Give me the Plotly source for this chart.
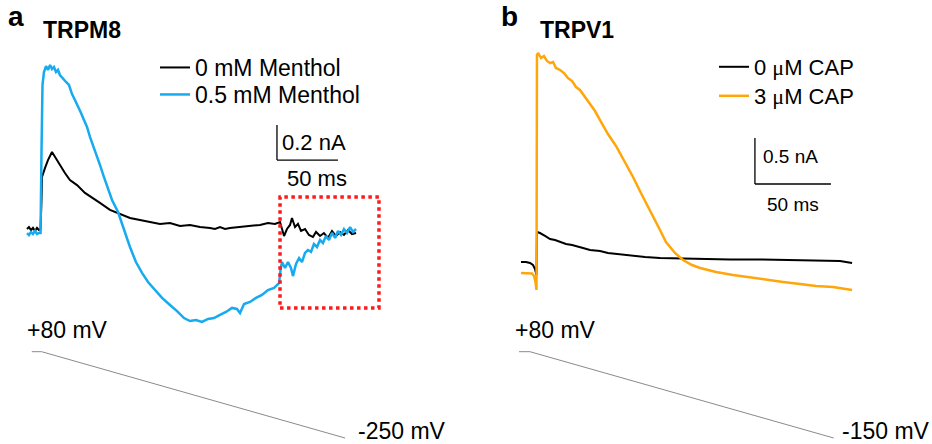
import plotly.graph_objects as go

# ---------------- Panel a : TRPM8 (time in ms, current in nA) ----------------
trpm8_ctrl_t = [0, 1.6, 3.3, 4.9, 6.6, 8.2, 9.8, 11.1, 11.9, 12.3, 14.8, 17.2, 20.5, 23.0, 27.0,
                31.1, 35.2, 41.0, 47.5, 54.1, 59.8, 68.0, 76.2, 84.4, 92.6, 100.8, 109.0, 117.2,
                125.4, 133.6, 141.8, 150.0, 154.1, 158.2, 162.3, 166.4, 174.6, 182.8, 191.0, 197.5,
                203.3, 207.4, 209.0, 210.7, 213.1, 215.6, 217.2, 219.7, 222.1, 224.6, 227.9, 231.1,
                234.4, 236.9, 240.2, 243.4, 246.7, 250.0, 253.3, 256.6, 259.8, 263.1, 266.4, 269.7]
trpm8_ctrl_i = [0, 0.011, -0.006, 0.006, -0.011, 0.006, -0.006, 0, 0.166, 0.297, 0.349, 0.394, 0.44,
                0.411, 0.36, 0.32, 0.28, 0.251, 0.206, 0.177, 0.149, 0.109, 0.086, 0.063, 0.051, 0.04,
                0.029, 0.034, 0.017, 0.023, 0.011, 0.006, 0, 0.011, 0, 0.006, 0.011, 0.017, 0.023,
                0.034, 0.029, 0.04, -0.006, -0.04, 0, 0.023, 0.063, 0.011, 0.029, -0.011, 0,
                -0.034, -0.046, -0.017, -0.04, -0.023, -0.051, -0.011, -0.04, -0.017, -0.034,
                -0.006, -0.029, -0.023]

trpm8_menthol_t = [0, 1.6, 3.3, 4.9, 6.6, 8.2, 9.8, 11.1, 11.9, 12.7, 13.9, 15.6, 17.2, 18.9, 20.5,
                   22.1, 23.8, 25.4, 27.0, 29.5, 32.0, 34.4, 36.9, 39.3, 41.8, 44.3, 46.7, 49.2, 51.6,
                   54.1, 56.6, 59.8, 63.1, 66.4, 69.7, 74.6, 79.5, 84.4, 89.3, 94.3, 99.2, 104.9,
                   110.7, 117.2, 123.0, 128.7, 133.6, 138.5, 143.4, 148.4, 153.3, 158.2, 163.1, 168.0,
                   172.1, 174.6, 177.9, 182.8, 187.7, 192.6, 197.5, 202.5, 206.6, 207.8, 209.0, 211.5,
                   213.9, 216.4, 218.0, 220.5, 223.0, 225.4, 227.9, 230.3, 232.8, 235.2, 237.7, 240.2,
                   242.6, 245.1, 247.5, 250.0, 252.5, 254.9, 257.4, 259.8, 262.3, 264.8, 267.2, 269.7]
trpm8_menthol_i = [-0.023, -0.034, -0.017, -0.029, -0.011, -0.029, -0.023, -0.023, 0.451, 0.823,
                   0.897, 0.931, 0.909, 0.937, 0.914, 0.926, 0.897, 0.909, 0.88, 0.863, 0.84, 0.823,
                   0.771, 0.737, 0.703, 0.663, 0.623, 0.583, 0.526, 0.48, 0.429, 0.366, 0.297, 0.229,
                   0.166, 0.097, -0.006, -0.103, -0.189, -0.251, -0.303, -0.349, -0.394, -0.434,
                   -0.469, -0.509, -0.526, -0.52, -0.531, -0.514, -0.509, -0.491, -0.474, -0.451,
                   -0.457, -0.48, -0.429, -0.417, -0.394, -0.377, -0.349, -0.337, -0.309, -0.234,
                   -0.189, -0.223, -0.189, -0.223, -0.269, -0.2, -0.166, -0.189, -0.137, -0.12,
                   -0.131, -0.086, -0.103, -0.063, -0.08, -0.04, -0.063, -0.023, -0.051, -0.011,
                   -0.034, 0, -0.023, 0.011, -0.017, 0]

# ---------------- Panel b : TRPV1 (time in ms, current in nA) ----------------
trpv1_ctrl_t = [0, 3.3, 5.9, 7.9, 9.2, 10.2, 10.5, 12.5, 15.8, 19.1, 22.4, 25.7, 29.6, 33.6, 37.5,
                40.8, 45.4, 52.0, 57.2, 62.5, 68.4, 73.7, 81.6, 91.4, 104.6, 117.8, 137.5, 157.2,
                177.0, 196.7, 209.9, 213.8, 217.8]
trpv1_ctrl_i = [0, 0, -0.011, -0.033, -0.076, -0.141, 0.326, 0.315, 0.283, 0.25, 0.239, 0.217,
                0.196, 0.185, 0.163, 0.152, 0.13, 0.12, 0.098, 0.087, 0.076, 0.065, 0.054, 0.043,
                0.038, 0.033, 0.027, 0.027, 0.022, 0.016, 0.011, 0, -0.011]

trpv1_cap_t = [0, 4.6, 7.2, 8.6, 9.5, 10.2, 10.5, 11.2, 13.2, 15.1, 17.1, 19.1, 21.1, 23.0, 25.7,
               28.3, 30.9, 33.6, 36.2, 38.8, 42.1, 45.4, 48.7, 52.0, 57.2, 62.5, 68.4, 73.7, 78.9,
               84.9, 90.1, 95.4, 101.3, 106.6, 112.5, 117.8, 128.3, 139.5, 150.7, 161.2, 172.4,
               183.6, 194.1, 205.3, 213.2, 217.8]
trpv1_cap_i = [-0.12, -0.12, -0.125, -0.152, -0.217, -0.304, 2.25, 2.272, 2.217, 2.239, 2.185,
               2.163, 2.174, 2.109, 2.087, 2.054, 2.0, 1.967, 1.902, 1.87, 1.793, 1.717, 1.641,
               1.543, 1.391, 1.261, 1.087, 0.924, 0.75, 0.565, 0.391, 0.217, 0.098, 0.022, -0.033,
               -0.065, -0.109, -0.141, -0.168, -0.196, -0.217, -0.239, -0.261, -0.272, -0.288, -0.304]

# ---------------- Voltage ramps (time in ms, voltage in mV) ----------------
ramp_a_t = [3.9, 12.0, 260.7]
ramp_a_mv = [80, 80, -250]
ramp_b_t = [-1.3, 5.9, 205.7]
ramp_b_mv = [80, 80, -150]

# Scale bars: anchor (ms, nA) and lengths
scale_a_t, scale_a_i, scale_a_dt, scale_a_di = 204.9, 0.394, 50, 0.2
scale_b_t, scale_b_i, scale_b_dt, scale_b_di = 153.9, 0.848, 50, 0.5

# Highlight box in panel a (ms, nA)
box_a_t = [207.4, 288.5]
box_a_i = [-0.451, 0.183]

BLACK = "#000000"
BLUE = "#16AAEF"
ORANGE = "#FFA60A"
FONT = "Liberation Sans, Arial, sans-serif"
MU = "<span style='font-family:Liberation Serif'>μ</span>"

fig = go.Figure()

fig.add_trace(go.Scatter(x=trpm8_ctrl_t, y=trpm8_ctrl_i, mode="lines", name="0 mM Menthol",
                         line=dict(color=BLACK, width=2), xaxis="x", yaxis="y", legend="legend"))
fig.add_trace(go.Scatter(x=trpm8_menthol_t, y=trpm8_menthol_i, mode="lines", name="0.5 mM Menthol",
                         line=dict(color=BLUE, width=2.5), xaxis="x", yaxis="y", legend="legend2"))
fig.add_trace(go.Scatter(x=trpv1_ctrl_t, y=trpv1_ctrl_i, mode="lines", name=f"0 {MU}M CAP",
                         line=dict(color=BLACK, width=2), xaxis="x2", yaxis="y2", legend="legend3"))
fig.add_trace(go.Scatter(x=trpv1_cap_t, y=trpv1_cap_i, mode="lines", name=f"3 {MU}M CAP",
                         line=dict(color=ORANGE, width=2.5), xaxis="x2", yaxis="y2", legend="legend4"))
fig.add_trace(go.Scatter(x=ramp_a_t, y=ramp_a_mv, mode="lines", showlegend=False,
                         line=dict(color="#8a8a8a", width=1), xaxis="x", yaxis="y3"))
fig.add_trace(go.Scatter(x=ramp_b_t, y=ramp_b_mv, mode="lines", showlegend=False,
                         line=dict(color="#8a8a8a", width=1), xaxis="x2", yaxis="y4"))

shapes = []
for (xr, yr, t0, i0, dt, di) in [("x", "y", scale_a_t, scale_a_i, scale_a_dt, scale_a_di),
                                  ("x2", "y2", scale_b_t, scale_b_i, scale_b_dt, scale_b_di)]:
    shapes.append(dict(type="line", xref=xr, yref=yr, x0=t0, x1=t0, y0=i0, y1=i0 + di,
                       line=dict(color=BLACK, width=1.3)))
    shapes.append(dict(type="line", xref=xr, yref=yr, x0=t0, x1=t0 + dt, y0=i0, y1=i0,
                       line=dict(color=BLACK, width=1.3)))
shapes.append(dict(type="rect", xref="x", yref="y", x0=box_a_t[0], x1=box_a_t[1],
                   y0=box_a_i[0], y1=box_a_i[1], line=dict(color="#FF1A1A", width=3.5, dash="dot")))

ann = []
def txt(text, x, y, xref, yref, size, xanchor="left", bold=False, xshift=0, yshift=0):
    ann.append(dict(text=f"<b>{text}</b>" if bold else text, x=x, y=y, xref=xref, yref=yref,
                    showarrow=False, xanchor=xanchor, yanchor="middle", xshift=xshift, yshift=yshift,
                    font=dict(family=FONT, size=size, color=BLACK)))

txt("a", 6 / 932, 1 - 17 / 444, "paper", "paper", 28, bold=True)
txt("TRPM8", 41 / 932, 1 - 30 / 444, "paper", "paper", 23, bold=True)
txt("b", 499 / 932, 1 - 17 / 444, "paper", "paper", 28, bold=True)
txt("TRPV1", 538 / 932, 1 - 30 / 444, "paper", "paper", 23, bold=True)

txt(f"{scale_a_di:g} nA", scale_a_t, scale_a_i + scale_a_di / 2, "x", "y", 22, xshift=3)
txt(f"{scale_a_dt:g} ms", scale_a_t + scale_a_dt / 2, scale_a_i, "x", "y", 22, "center", xshift=10, yshift=-18)
txt(f"{scale_b_di:g} nA", scale_b_t, scale_b_i + scale_b_di / 2, "x2", "y2", 19, xshift=6, yshift=4)
txt(f"{scale_b_dt:g} ms", scale_b_t + scale_b_dt / 2, scale_b_i, "x2", "y2", 19, "center", yshift=-21)

txt(f"+{ramp_a_mv[0]} mV", ramp_a_t[0], ramp_a_mv[0], "x", "y3", 23, xshift=-7, yshift=22)
txt(f"{ramp_a_mv[-1]} mV", ramp_a_t[-1], ramp_a_mv[-1], "x", "y3", 23, xshift=11, yshift=7)
txt(f"+{ramp_b_mv[0]} mV", ramp_b_t[0], ramp_b_mv[0], "x2", "y4", 23, xshift=-6, yshift=22)
txt(f"{ramp_b_mv[-1]} mV", ramp_b_t[-1], ramp_b_mv[-1], "x2", "y4", 23, xshift=6, yshift=7)

def leg(xpx, ytop, size):
    return dict(x=xpx / 932, y=1 - ytop / 444, xanchor="left", yanchor="top",
                bgcolor="rgba(0,0,0,0)", font=dict(family=FONT, size=size, color=BLACK))

hidden = dict(visible=False, showgrid=False, zeroline=False, fixedrange=True)
fig.update_layout(
    width=932, height=444,
    margin=dict(l=0, r=0, t=0, b=0),
    paper_bgcolor="white", plot_bgcolor="white",
    font=dict(family=FONT, size=22, color=BLACK),
    xaxis=dict(domain=[0, 0.5], range=[-22.13, 359.84], anchor="y", **hidden),
    yaxis=dict(domain=[0, 1], range=[-1.2286, 1.3086], anchor="x", **hidden),
    xaxis2=dict(domain=[0.5, 1], range=[-36.18, 270.39], anchor="y2", **hidden),
    yaxis2=dict(domain=[0, 1], range=[-1.9783, 2.8478], anchor="x2", **hidden),
    yaxis3=dict(overlaying="y", anchor="x", range=[-272.96, 1424.9], **hidden),
    yaxis4=dict(overlaying="y2", anchor="x2", range=[-166.0, 1017.3], **hidden),
    legend=leg(155, 46, 23), legend2=leg(155, 73, 23),
    legend3=leg(714, 46, 22), legend4=leg(714, 75, 22),
    shapes=shapes, annotations=ann,
)

fig.write_html("out.html", config={"displayModeBar": False},
               post_script="document.body.style.margin='0';")
